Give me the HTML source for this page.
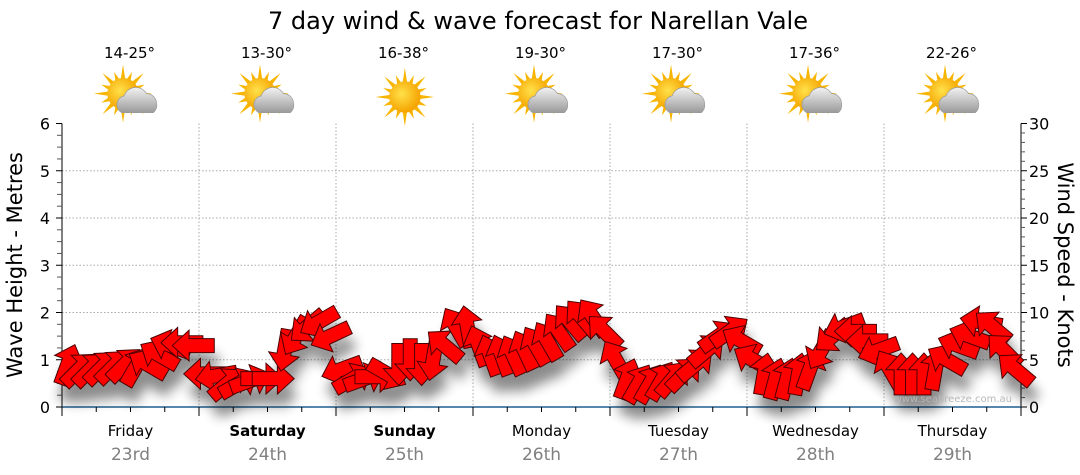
<!DOCTYPE html>
<html><head><meta charset="utf-8"><style>
html,body{margin:0;padding:0;background:#fff;width:1080px;height:475px;overflow:hidden}
svg{display:block}
text{font-family:"DejaVu Sans","Liberation Sans",sans-serif}
</style></head><body>
<svg id="chart" width="1080" height="475" viewBox="0 0 1080 475">
<defs>
<filter id="shadow" x="-50%" y="-50%" width="200%" height="200%"><feGaussianBlur stdDeviation="6"/></filter>
<radialGradient id="sunG" cx="40%" cy="40%" r="60%"><stop offset="0" stop-color="#ffe14a"/><stop offset="1" stop-color="#f5a300"/></radialGradient>
<linearGradient id="cloudG" x1="0" y1="0" x2="0" y2="1"><stop offset="0" stop-color="#f2f2f2"/><stop offset="1" stop-color="#9a9a9a"/></linearGradient>
</defs>
<text x="538" y="29" font-size="24" text-anchor="middle" fill="#000">7 day wind &amp; wave forecast for Narellan Vale</text>
<g id="grid"></g>
<g id="axes"></g>
<g id="icons"></g>
<g id="shadows" filter="url(#shadow)" opacity="0.45"></g>
<g id="arrows"></g>
<text x="1012" y="402" font-size="10" text-anchor="end" fill="#b8b8b8">www.seabreeze.com.au</text>
<text transform="translate(22,265) rotate(-90)" font-size="21" text-anchor="middle" fill="#000">Wave Height - Metres</text>
<text transform="translate(1058,265) rotate(90)" font-size="21" text-anchor="middle" fill="#000">Wind Speed - Knots</text>
</svg>
<script>
const days = ["Friday","Saturday","Sunday","Monday","Tuesday","Wednesday","Thursday"];
const dates = ["23rd","24th","25th","26th","27th","28th","29th"];
const boldDays = [false,true,true,false,false,false,false];
const temps = ["14-25°","13-30°","16-38°","19-30°","17-30°","17-36°","22-26°"];
const icons = ["partly","partly","sunny","partly","partly","partly","partly"];
const waveTicks = [0,1,2,3,4,5,6];
const windTicks = [0,5,10,15,20,25,30];
// wind speed (knots), every 2 hours, 12 per day
const windSpeed = [
 4.5,4,4,4.2,4.3,4.5,4.3,4.5,5.5,6.5,6.8,6.5,
 3.5,3.3,2.5,2.5,2.8,3,3,6,7.5,8.5,9,7.5,
 4,3,3,3.2,3.5,4.5,5,4.5,5,6.5,8.5,8.5,
 6.5,5.5,5.5,5.5,6,6.5,7,8,9,9.5,9.5,8,
 5,3,2.5,2.5,2.8,3,3.5,4.5,6,7.5,8,7,
 5,3.5,3,3,3.5,4,6,7.5,8.5,8,7,6,
 4,3.5,3.5,3.5,4,5,6.5,7.5,9,8.5,6,4];
// arrow pointing angle, degrees (0 = right, -90 = up)
const windDir = [
 -70,-45,-45,-45,-45,-45,-60,-150,-150,-160,180,180,
 180,170,-40,-30,-20,0,0,100,120,140,150,155,
 160,-30,-20,0,30,90,90,90,100,-140,-120,-100,
 -110,-110,-110,-115,-115,-120,-120,-125,-130,-130,-125,-135,
 -120,-70,-60,-60,-60,-50,-45,-40,-40,-35,-35,-150,
 -150,-80,-75,-75,-80,-70,120,140,160,180,180,160,
 -120,-90,-90,-90,-80,-150,-160,-160,-170,-140,-135,-140];

const NS="http://www.w3.org/2000/svg";
const X0=62,X1=1021,Y0=407,Y1=123.5;
const dayW=(X1-X0)/7;
const xHour=h=>X0+h/168*(X1-X0);
const yWave=m=>Y0-m/6*(Y0-Y1);
const yWind=k=>Y0-k/30*(Y0-Y1);
function mk(tag,attrs,parent){const e=document.createElementNS(NS,tag);for(const k in attrs)e.setAttribute(k,attrs[k]);parent.appendChild(e);return e;}
const grid=document.getElementById('grid'),axes=document.getElementById('axes');
for(let m=1;m<=5;m++){const l=mk('line',{x1:X0,x2:X1,y1:yWave(m),y2:yWave(m),stroke:'#aaa','stroke-dasharray':'1.5,2','stroke-width':1},grid);

}
for(let d=1;d<7;d++){const l=mk('line',{x1:X0+d*dayW,x2:X0+d*dayW,y1:Y1,y2:Y0,stroke:'#aaa','stroke-dasharray':'1.5,2','stroke-width':1},grid);

}
mk('line',{x1:X0,x2:X0,y1:Y1,y2:Y0,stroke:'#000'},axes);
for(let i=0;i<=24;i++){const m=i/4;const maj=i%4==0;mk('line',{x1:X0-(maj?6:5),x2:X0,y1:yWave(m),y2:yWave(m),stroke:maj?'#000':'#555'},axes);}
waveTicks.forEach(m=>{const t=mk('text',{x:X0-12,y:yWave(m)+6,'font-size':16,'text-anchor':'end',fill:'#000'},axes);t.textContent=m;

});
mk('line',{x1:X1,x2:X1,y1:Y1,y2:Y0,stroke:'#000'},axes);
for(let k=0;k<=30;k++){const maj=k%5==0;mk('line',{x1:X1,x2:X1+(maj?6:4),y1:yWind(k),y2:yWind(k),stroke:maj?'#000':'#555'},axes);}
windTicks.forEach(k=>{const t=mk('text',{x:X1+8,y:yWind(k)+6,'font-size':16,fill:'#000'},axes);t.textContent=k;

});
mk('line',{x1:X0,x2:X1,y1:Y0,y2:Y0,stroke:'#1f5f8f','stroke-width':1.5},axes);
for(let h=0;h<=168;h+=6){const maj=h%24==0;mk('line',{x1:xHour(h),x2:xHour(h),y1:Y0,y2:Y0+(maj?9:5),stroke:'#000'},axes);}
days.forEach((d,i)=>{const cx=X0+(i+0.5)*dayW;
const t=mk('text',{x:cx,y:436,'font-size':15,'text-anchor':'middle',fill:'#000','font-weight':boldDays[i]?'bold':'normal'},axes);t.textContent=d;


const t2=mk('text',{x:cx,y:460,'font-size':17,'text-anchor':'middle',fill:'#808080'},axes);t2.textContent=dates[i];


const t3=mk('text',{x:cx-1,y:58,'font-size':15,'text-anchor':'middle',fill:'#000'},axes);t3.textContent=temps[i];


const g=mk('g',{transform:`translate(${cx-3},97) scale(1.12)`},document.getElementById('icons'));


const sx=icons[i]=='sunny'?3:-4,sy=icons[i]=='sunny'?0:-3;
for(let a=0;a<16;a++){const ang=a*Math.PI/8;const L=a%2?21:26;const w=0.18;
mk('polygon',{points:`${sx+Math.cos(ang-w)*12},${sy+Math.sin(ang-w)*12} ${sx+Math.cos(ang)*L},${sy+Math.sin(ang)*L} ${sx+Math.cos(ang+w)*12},${sy+Math.sin(ang+w)*12}`,fill:'#f7b500'},g);}
mk('circle',{cx:sx,cy:sy,r:14,fill:'url(#sunG)'},g);
if(icons[i]=='partly'){
mk('path',{d:'M-5,14 a8,8 0 0 1 2,-15 a11,11 0 0 1 20,-2 a9,9 0 0 1 9,9 a8,8 0 0 1 -3,8 z',fill:'url(#cloudG)',stroke:'#999','stroke-width':0.6},g);}
});
const arrowsG=document.getElementById('arrows'),shadowsG=document.getElementById('shadows');
const pts="-15,-5 3,-5 3,-11 15,0 3,11 3,5 -15,5";
windSpeed.forEach((s,i)=>{const x=xHour(i*2+1),y=yWind(s);
const sh=mk('polygon',{points:pts,fill:'#000',transform:`translate(${x+4},${y+16}) rotate(${windDir[i]}) scale(1.4)`},shadowsG);


const p=mk('polygon',{points:pts,fill:'#ff0000',stroke:'#4a0000','stroke-width':0.7,transform:`translate(${x},${y}) rotate(${windDir[i]}) scale(1.4)`},arrowsG);

});
</script>
</body></html>
